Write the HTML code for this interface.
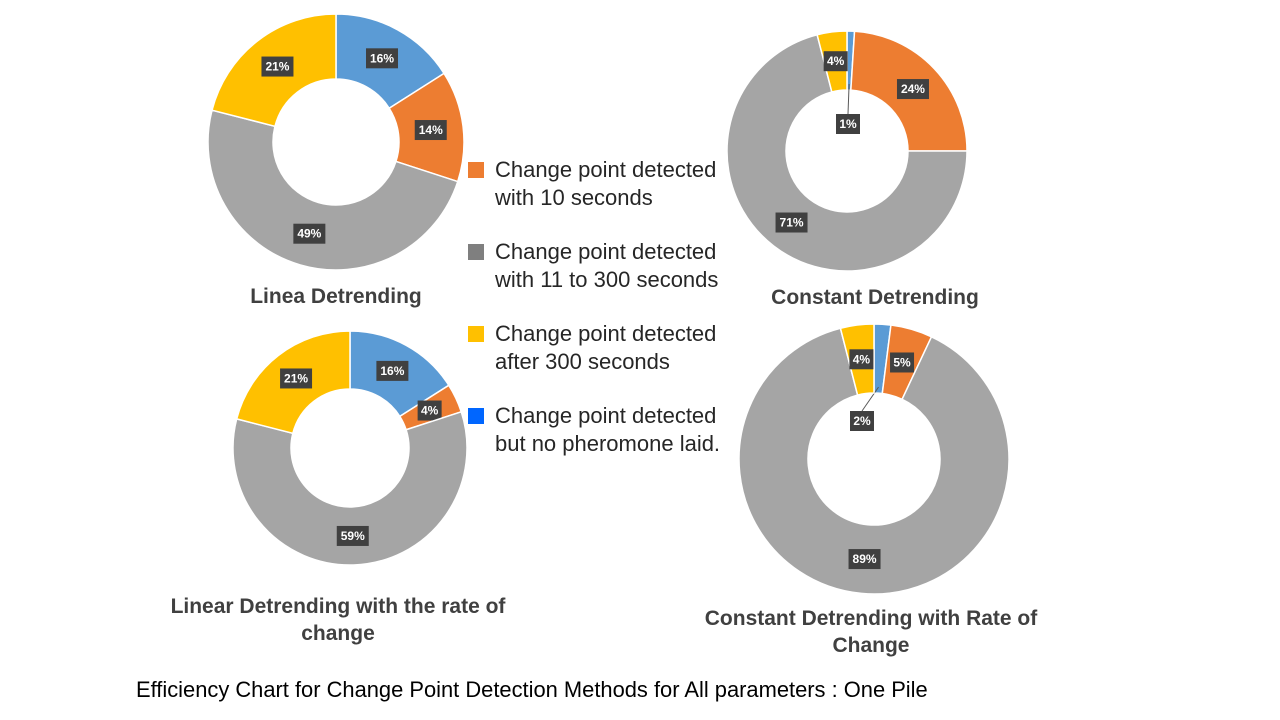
<!DOCTYPE html>
<html><head><meta charset="utf-8">
<style>
body{margin:0;background:#fff;width:1280px;height:720px;overflow:hidden;font-family:"Liberation Sans",sans-serif;}
svg{position:absolute;left:0;top:0}
</style></head>
<body>
<svg id="c" width="1280" height="720"></svg>
<script>
const labels = ["Change point detected but no pheromone laid.","Change point detected with 10 seconds","Change point detected with 11 to 300 seconds","Change point detected after 300 seconds"];
const linearValues = [16,14,49,21];
const constantValues = [1,24,71,4];
const linearRateValues = [16,4,59,21];
const constantRateValues = [2,5,89,4];
const titles = [["Linea Detrending"],["Constant Detrending"],["Linear Detrending with  the rate of","change"],["Constant Detrending with Rate of","Change"]];
const colors = ["#5B9BD5","#ED7D31","#A5A5A5","#FFC000"];
const charts = [
 {v:linearValues,cx:336,cy:142,r:128,ri:63,tx:336,ty:303,call:null},
 {v:constantValues,cx:847,cy:151,r:120,ri:61,tx:875,ty:304,call:{i:0,x:848,y:124}},
 {v:linearRateValues,cx:350,cy:448,r:117,ri:59,tx:338,ty:613,call:null},
 {v:constantRateValues,cx:874,cy:459,r:135,ri:66,tx:871,ty:625,call:{i:0,x:862,y:421}}
];
const svg=document.getElementById('c');
const NS="http://www.w3.org/2000/svg";
function mk(t,a,p){const e=document.createElementNS(NS,t);for(const k in a)e.setAttribute(k,a[k]);(p||svg).appendChild(e);return e;}
function pt(cx,cy,r,a){return [cx+r*Math.sin(a),cy-r*Math.cos(a)];}
charts.forEach((c,ci)=>{
 const g=mk('g',{});
 
 
 const tot=c.v.reduce((a,b)=>a+b,0);
 let a0=0;
 c.v.forEach((v,i)=>{
  const a1=a0+v/tot*2*Math.PI;
  const [x0,y0]=pt(c.cx,c.cy,c.r,a0),[x1,y1]=pt(c.cx,c.cy,c.r,a1);
  const [x2,y2]=pt(c.cx,c.cy,c.ri,a1),[x3,y3]=pt(c.cx,c.cy,c.ri,a0);
  const lg=(a1-a0)>Math.PI?1:0;
  const p=mk('path',{d:`M${x0},${y0}A${c.r},${c.r} 0 ${lg} 1 ${x1},${y1}L${x2},${y2}A${c.ri},${c.ri} 0 ${lg} 0 ${x3},${y3}Z`,fill:colors[i],stroke:'#fff','stroke-width':1.5},g);
  
  
  const am=(a0+a1)/2;
  let lx,ly;
  if(c.call&&c.call.i===i){
   lx=c.call.x;ly=c.call.y;
   const [ex,ey]=pt(c.cx,c.cy,c.ri+6,am);
   mk('line',{x1:ex,y1:ey,x2:lx,y2:ly-10,stroke:'#595959','stroke-width':1},g);
  } else {
   [lx,ly]=pt(c.cx,c.cy,(c.r+c.ri)/2,am);
  }
  const txt=v+'%';
  const w=txt.length>2?32:24;
  const b=mk('rect',{x:lx-w/2,y:ly-10,width:w,height:20,fill:'#404040'},g);
  
  
  const t=mk('text',{x:lx,y:ly+4,'text-anchor':'middle','font-size':12,'font-weight':'bold',fill:'#fff'},g);
  
  
  t.textContent=txt;
  a0=a1;
 });
 titles[ci].forEach((s,li)=>{
  const t=mk('text',{x:c.tx,y:c.ty+li*27,'text-anchor':'middle','font-size':21,'font-weight':'bold',fill:'#404040'},g);
  
  
  t.textContent=s;
 });
});
const legOrder=[1,2,3,0];
const legColors=["#0066FF","#ED7D31","#7F7F7F","#FFC000"];
const legLines=[["Change point detected","with 10 seconds"],["Change point detected","with 11 to 300 seconds"],["Change point detected","after 300 seconds"],["Change point detected","but no pheromone laid."]];
legOrder.forEach((idx,k)=>{
 const y=170+k*82;
 const g=mk('g',{});
 
 
 mk('rect',{x:468,y:y-8,width:16,height:16,fill:legColors[idx]},g);
 legLines[k].forEach((s,li)=>{
  const t=mk('text',{x:495,y:y+7+li*28,'font-size':22,fill:'#262626'},g);
  t.textContent=s;
 });
});
const cap=mk('text',{x:136,y:697,'font-size':21.9,fill:'#000'});


cap.textContent="Efficiency Chart for Change Point Detection Methods for All parameters : One Pile";
</script>
</body></html>
